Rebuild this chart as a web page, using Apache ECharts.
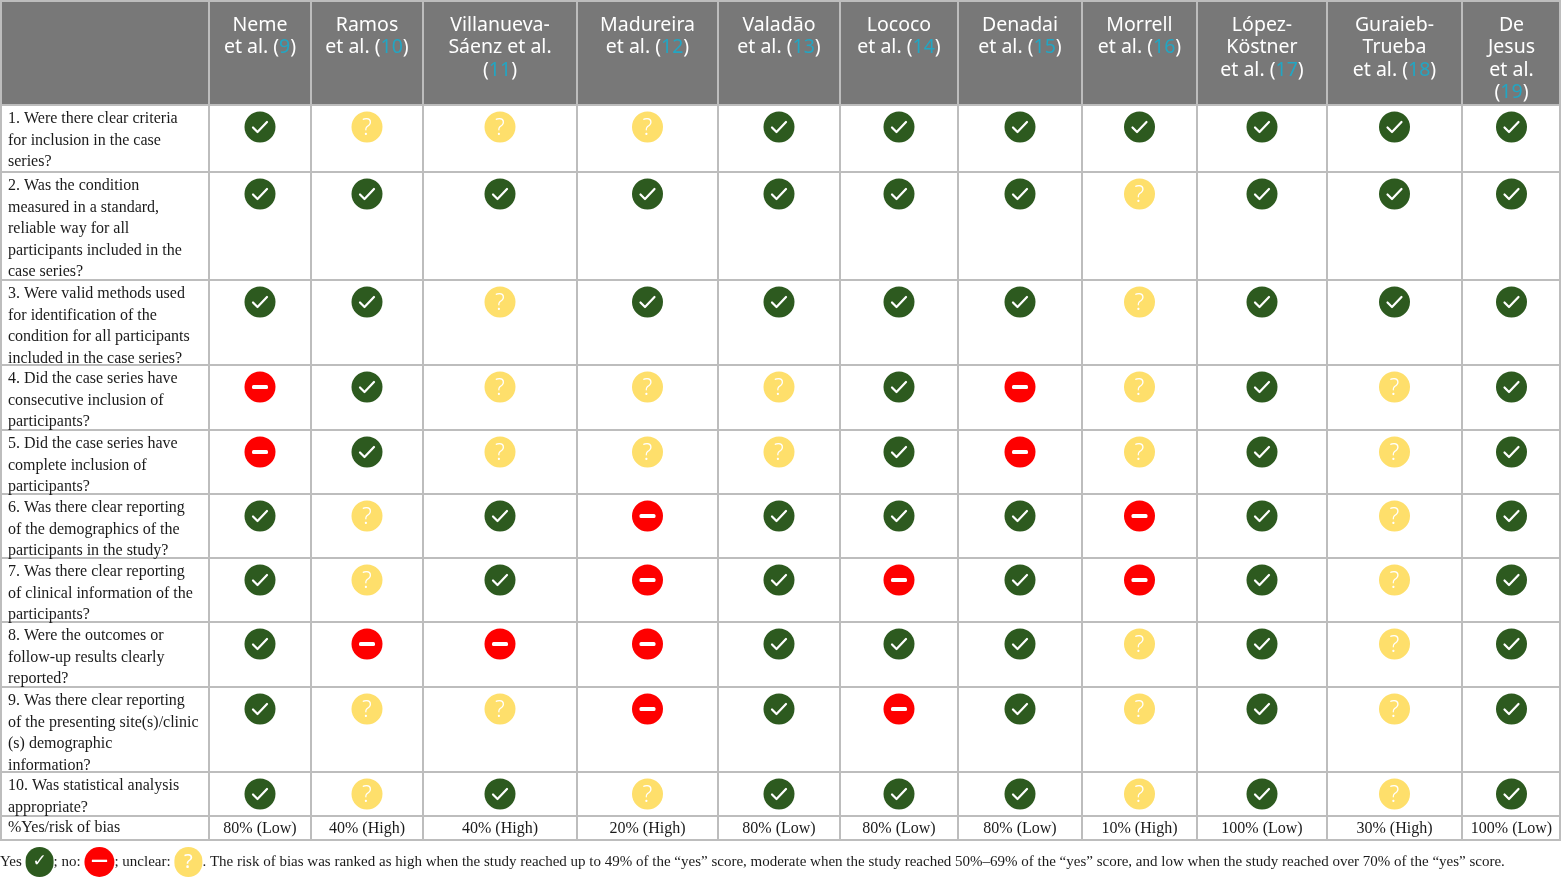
<!DOCTYPE html>
<html><head><meta charset="utf-8">
<script src="https://cdn.jsdelivr.net/npm/echarts@6/dist/echarts.min.js"></script>
<style>html,body{margin:0;padding:0;background:#fff}#c{width:1561px;height:879px}</style>
</head><body><div id="c"></div>
<script>
// ---------- data ----------
const studies = ['Neme\net al.', 'Ramos\net al.', 'Villanueva-\nSáenz et al.\n', 'Madureira\net al.', 'Valadão\net al.', 'Lococo\net al.', 'Denadai\net al.', 'Morrell\net al.', 'López-\nKöstner\net al.', 'Guraieb-\nTrueba\net al.', 'De\nJesus\net al.\n'];
const refs = ['9', '10', '11', '12', '13', '14', '15', '16', '17', '18', '19'];
const questions = [
  '1. Were there clear criteria\nfor inclusion in the case\nseries?',
  '2. Was the condition\nmeasured in a standard,\nreliable way for all\nparticipants included in the\ncase series?',
  '3. Were valid methods used\nfor identification of the\ncondition for all participants\nincluded in the case series?',
  '4. Did the case series have\nconsecutive inclusion of\nparticipants?',
  '5. Did the case series have\ncomplete inclusion of\nparticipants?',
  '6. Was there clear reporting\nof the demographics of the\nparticipants in the study?',
  '7. Was there clear reporting\nof clinical information of the\nparticipants?',
  '8. Were the outcomes or\nfollow-up results clearly\nreported?',
  '9. Was there clear reporting\nof the presenting site(s)/clinic\n(s) demographic\ninformation?',
  '10. Was statistical analysis\nappropriate?'
];
// Y = yes, N = no, U = unclear (one array per question, one entry per study)
const ratings = [
  ['Y','U','U','U','Y','Y','Y','Y','Y','Y','Y'],
  ['Y','Y','Y','Y','Y','Y','Y','U','Y','Y','Y'],
  ['Y','Y','U','Y','Y','Y','Y','U','Y','Y','Y'],
  ['N','Y','U','U','U','Y','N','U','Y','U','Y'],
  ['N','Y','U','U','U','Y','N','U','Y','U','Y'],
  ['Y','U','Y','N','Y','Y','Y','N','Y','U','Y'],
  ['Y','U','Y','N','Y','N','Y','N','Y','U','Y'],
  ['Y','N','N','N','Y','Y','Y','U','Y','U','Y'],
  ['Y','U','U','N','Y','N','Y','U','Y','U','Y'],
  ['Y','U','Y','U','Y','Y','Y','U','Y','U','Y']
];
const scoreLabel = '%Yes/risk of bias';
const scores = ['80% (Low)', '40% (High)', '40% (High)', '20% (High)', '80% (Low)', '80% (Low)', '80% (Low)', '10% (High)', '100% (Low)', '30% (High)', '100% (Low)'];
const footnote = '. The risk of bias was ranked as high when the study reached up to 49% of the \u201cyes\u201d score, moderate when the study reached 50%\u201369% of the \u201cyes\u201d score, and low when the study reached over 70% of the \u201cyes\u201d score.';

// ---------- layout (table geometry in axis units) ----------
const colEdges = [0, 209, 311, 423, 577, 718, 840, 958, 1082, 1197, 1327, 1462, 1561];
const rowEdges = [0, 105, 172, 280, 365, 430, 494, 558, 622, 687, 772, 816, 840];
const GREEN = '#2d5a1f', RED = '#fe0000', YELLOW = '#fedf6b', TEAL = '#22a6c3';
const HEAD_BG = '#787878', LINE = '#bdbdbd';
const SERIF = '"Liberation Serif", "Times New Roman", serif';
const SANS = '"Noto Sans", "Open Sans", sans-serif';

const chart = echarts.init(document.getElementById('c'), null, {renderer: 'canvas'});

function px(x, y, api) { return api.coord([x, y]); }

const ratingData = [];
ratings.forEach((row, r) => row.forEach((v, c) => ratingData.push([c, r, v])));

const option = {
  animation: false,
  grid: {left: 0, right: 0, top: 0, bottom: 0},
  xAxis: {type: 'value', min: 0, max: 1561, show: false},
  yAxis: {type: 'value', min: 0, max: 879, inverse: true, show: false},
  series: [
    { // background + grid lines
      type: 'custom', silent: true, z: 1,
      data: [[0, 0]],
      renderItem: function (params, api) {
        const ch = [];
        const tl = px(0, 0, api), br = px(colEdges[colEdges.length - 1], rowEdges[1], api);
        ch.push({type: 'rect', shape: {x: tl[0], y: tl[1], width: br[0] - tl[0], height: br[1] - tl[1]}, style: {fill: HEAD_BG}});
        const bottom = rowEdges[rowEdges.length - 1];
        colEdges.forEach((x, i) => {
          const a = px(x, 0, api), b = px(x, bottom, api);
          const xx = i === 0 ? a[0] + 1 : (i === colEdges.length - 1 ? a[0] - 1 : a[0]);
          ch.push({type: 'line', shape: {x1: xx, y1: a[1], x2: xx, y2: b[1]}, style: {stroke: LINE, lineWidth: 2}});
        });
        rowEdges.forEach((y, i) => {
          const a = px(0, y, api), b = px(colEdges[colEdges.length - 1], y, api);
          const yy = i === 0 ? a[1] + 1 : a[1];
          ch.push({type: 'line', shape: {x1: a[0], y1: yy, x2: b[0], y2: yy}, style: {stroke: LINE, lineWidth: 2}});
        });
        return {type: 'group', children: ch};
      }
    },
    { // header labels
      type: 'custom', silent: true, z: 3,
      data: studies.map((s, i) => [i, 0]),
      renderItem: function (params, api) {
        const i = params.dataIndex;
        const s = studies[i];
        const txt = s + (s.endsWith('\n') ? '' : ' ') + '({r|' + refs[i] + '})';
        const p = px((colEdges[i + 1] + colEdges[i + 2]) / 2, rowEdges[0], api);
        return {type: 'text', style: {text: txt, x: p[0], y: p[1] + 14, align: 'center', verticalAlign: 'top',
          fontSize: 19.5, fontFamily: SANS, lineHeight: 22.5, fill: '#ffffff',
          rich: {r: {fill: TEAL, fontSize: 19.5, fontFamily: SANS, lineHeight: 22.5}}}};
      }
    },
    { // question labels + score label
      type: 'custom', silent: true, z: 3,
      data: questions.concat([scoreLabel]).map((q, i) => [0, i]),
      renderItem: function (params, api) {
        const r = params.dataIndex;
        const txt = r < questions.length ? questions[r] : scoreLabel;
        const p = px(colEdges[0], rowEdges[r + 1], api);
        return {type: 'text', style: {text: txt, x: p[0] + 8, y: p[1] + (r < questions.length ? 3.5 : 1), align: 'left', verticalAlign: 'top',
          fontSize: 16, fontFamily: SERIF, lineHeight: 21.5, fill: '#1a1a1a'}};
      }
    },
    { // rating icons
      type: 'custom', silent: true, z: 4,
      data: ratingData,
      renderItem: function (params, api) {
        const c = api.value(0), r = api.value(1);
        const v = ratingData[params.dataIndex][2];
        const p = px((colEdges[c + 1] + colEdges[c + 2]) / 2, rowEdges[r + 1] + 22, api);
        const cx = p[0], cy = p[1], R = 15.5;
        const ch = [];
        if (v === 'Y') {
          ch.push({type: 'circle', shape: {cx, cy, r: R}, style: {fill: GREEN}});
          ch.push({type: 'polyline', shape: {points: [[cx - 7, cy + 0.5], [cx - 2.5, cy + 5], [cx + 7, cy - 5]]},
            style: {stroke: '#ffffff', lineWidth: 2.2, fill: null, lineCap: 'round', lineJoin: 'round'}});
        } else if (v === 'N') {
          ch.push({type: 'circle', shape: {cx, cy, r: R}, style: {fill: RED}});
          ch.push({type: 'rect', shape: {x: cx - 8, y: cy - 2, width: 16, height: 4, r: 1.5}, style: {fill: '#ffffff'}});
        } else {
          ch.push({type: 'circle', shape: {cx, cy, r: R}, style: {fill: YELLOW}});
          ch.push({type: 'text', style: {text: '?', x: cx, y: cy + 1, align: 'center', verticalAlign: 'middle',
            fontSize: 23, fontFamily: SANS, fontWeight: 300, fill: '#ffffff'}});
        }
        return {type: 'group', children: ch};
      }
    },
    { // score row
      type: 'custom', silent: true, z: 3,
      data: scores.map((s, i) => [i, 0]),
      renderItem: function (params, api) {
        const i = params.dataIndex;
        const r = rowEdges.length - 2;
        const p = px((colEdges[i + 1] + colEdges[i + 2]) / 2, (rowEdges[r] + rowEdges[r + 1]) / 2, api);
        return {type: 'text', style: {text: scores[i], x: p[0], y: p[1] + 1, align: 'center', verticalAlign: 'middle',
          fontSize: 16, fontFamily: SERIF, fill: '#1a1a1a'}};
      }
    }
  ],
  graphic: [{
    type: 'text', left: 0, top: 847, silent: true,
    style: {
      text: 'Yes {y|\u2713}; no: {n|\u2014}; unclear: {u|?}' + footnote,
      fontSize: 15, fontFamily: SERIF, fill: '#1a1a1a',
      rich: {
        y: {backgroundColor: GREEN, borderRadius: 15, width: 28, height: 30, lineHeight: 30, align: 'center', fill: '#ffffff', fontSize: 17, fontFamily: '"DejaVu Sans"'},
        n: {backgroundColor: RED, borderRadius: 15, width: 30, height: 30, lineHeight: 30, align: 'center', fill: '#ffffff', fontSize: 17, fontWeight: 'bold', fontFamily: '"DejaVu Sans"'},
        u: {backgroundColor: YELLOW, borderRadius: 15, width: 28, height: 30, lineHeight: 30, align: 'center', fill: '#ffffff', fontSize: 20, fontFamily: SANS}
      }
    }
  }]
};
chart.setOption(option);
</script>
</body></html>
